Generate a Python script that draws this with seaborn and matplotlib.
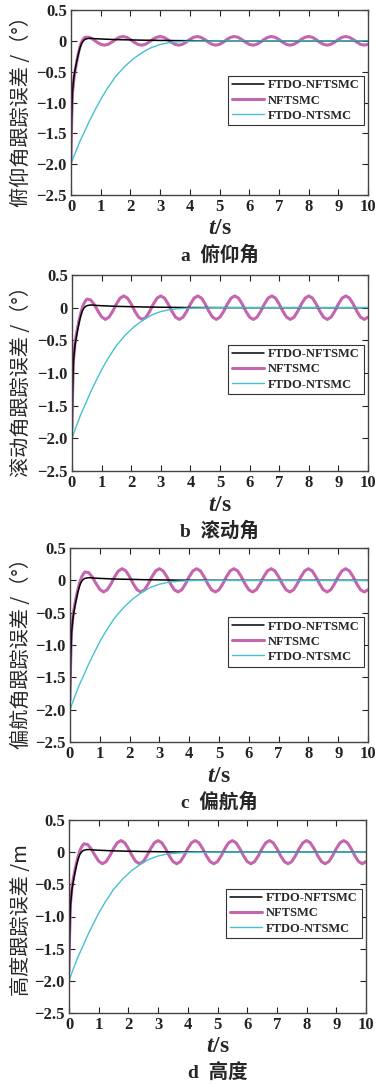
import matplotlib
matplotlib.use("Agg")
import matplotlib.pyplot as plt
import seaborn as sb


# time samples of the NFTSMC curves (fast rise, then the steady oscillation)
nftsmc_t = [0, 0.02, 0.05, 0.1, 0.15, 0.2, 0.25, 0.3, 0.35, 0.4, 0.45,
            0.5, 0.625, 0.75, 0.875, 1.0, 1.125, 1.25, 1.375, 1.5, 1.625,
            1.75, 1.875, 2.0, 2.125, 2.25, 2.375, 2.5, 2.625, 2.75, 2.875,
            3.0, 3.125, 3.25, 3.375, 3.5, 3.625, 3.75, 3.875, 4.0, 4.125,
            4.25, 4.375, 4.5, 4.625, 4.75, 4.875, 5.0, 5.125, 5.25, 5.375,
            5.5, 5.625, 5.75, 5.875, 6.0, 6.125, 6.25, 6.375, 6.5, 6.625,
            6.75, 6.875, 7.0, 7.125, 7.25, 7.375, 7.5, 7.625, 7.75, 7.875,
            8.0, 8.125, 8.25, 8.375, 8.5, 8.625, 8.75, 8.875, 9.0, 9.125,
            9.25, 9.375, 9.5, 9.625, 9.75, 9.875, 10.0]

nftsmc_pitch = [-1.93, -1.35, -0.85, -0.6, -0.45, -0.32, -0.2, -0.1, -0.03, 0.02, 0.05,
                0.06, 0.055, 0.022, -0.022, -0.057, -0.07, -0.057, -0.022, 0.022, 0.057,
                0.07, 0.057, 0.022, -0.022, -0.057, -0.07, -0.057, -0.022, 0.022, 0.057,
                0.07, 0.057, 0.022, -0.022, -0.057, -0.07, -0.057, -0.022, 0.022, 0.057,
                0.07, 0.057, 0.022, -0.022, -0.057, -0.07, -0.057, -0.022, 0.022, 0.057,
                0.07, 0.057, 0.022, -0.022, -0.057, -0.07, -0.057, -0.022, 0.022, 0.057,
                0.07, 0.057, 0.022, -0.022, -0.057, -0.07, -0.057, -0.022, 0.022, 0.057,
                0.07, 0.057, 0.022, -0.022, -0.057, -0.07, -0.057, -0.022, 0.022, 0.057,
                0.07, 0.057, 0.022, -0.022, -0.057, -0.07, -0.057]

# roll, yaw and height NFTSMC errors look the same in the figure
nftsmc_attitude = [-1.85, -1.3, -0.8, -0.55, -0.4, -0.28, -0.17, -0.08, 0.0, 0.06, 0.1,
                   0.13, 0.12, 0.05, -0.05, -0.14, -0.18, -0.146, -0.056, 0.056, 0.146,
                   0.18, 0.146, 0.056, -0.056, -0.146, -0.18, -0.146, -0.056, 0.056, 0.146,
                   0.18, 0.146, 0.056, -0.056, -0.146, -0.18, -0.146, -0.056, 0.056, 0.146,
                   0.18, 0.146, 0.056, -0.056, -0.146, -0.18, -0.146, -0.056, 0.056, 0.146,
                   0.18, 0.146, 0.056, -0.056, -0.146, -0.18, -0.146, -0.056, 0.056, 0.146,
                   0.18, 0.146, 0.056, -0.056, -0.146, -0.18, -0.146, -0.056, 0.056, 0.146,
                   0.18, 0.146, 0.056, -0.056, -0.146, -0.18, -0.146, -0.056, 0.056, 0.146,
                   0.18, 0.146, 0.056, -0.056, -0.146, -0.18, -0.146]

ftdo_nftsmc_t = [0, 0.02, 0.05, 0.1, 0.15, 0.2, 0.25, 0.3, 0.35, 0.4, 0.45, 0.5, 0.6,
                 0.7, 0.8, 1.0, 1.25, 1.5, 2.0, 2.5, 3.0, 3.5, 4.0, 5.0, 6.0, 7.0,
                 8.0, 9.0, 10.0]
ftdo_nftsmc = [-1.9, -1.3, -0.82, -0.58, -0.44, -0.32, -0.21, -0.12, -0.05, -0.01,
               0.015, 0.03, 0.04, 0.04, 0.035, 0.03, 0.025, 0.02, 0.015, 0.01, 0.007,
               0.004, 0.002, 0.001, 0, 0, 0, 0, 0]

ftdo_ntsmc_t = [0, 0.1, 0.2, 0.3, 0.45, 0.6, 0.8, 1.0, 1.2, 1.5, 1.8, 2.1, 2.4, 2.7,
                3.0, 3.3, 3.6, 4.0, 5.0, 6.0, 7.0, 8.0, 9.0, 10.0]
ftdo_ntsmc = [-2.0, -1.87, -1.75, -1.63, -1.48, -1.32, -1.13, -0.95, -0.79, -0.58,
              -0.42, -0.29, -0.19, -0.11, -0.06, -0.03, -0.015, -0.005, 0, 0, 0, 0,
              0, 0]

series_names = ['FTDO-NFTSMC', 'NFTSMC', 'FTDO-NTSMC']
ylabels = ['俯仰角跟踪误差 /（°）', '滚动角跟踪误差 /（°）',
           '偏航角跟踪误差 /（°）', '高度跟踪误差 /m']
captions = ['a  俯仰角', 'b  滚动角', 'c  偏航角', 'd  高度']
nftsmc_panels = [nftsmc_pitch, nftsmc_attitude, nftsmc_attitude, nftsmc_attitude]

xticks = [0, 1, 2, 3, 4, 5, 6, 7, 8, 9, 10]
yticks = [-2.5, -2.0, -1.5, -1.0, -0.5, 0, 0.5]
ytick_labels = ['−2.5', '−2.0', '−1.5', '−1.0', '−0.5', '0', '0.5']

W, H = 375, 1084
# axes boxes in pixels: left, top, right, bottom
boxes = [(71, 10, 368, 195), (72, 275, 368, 471),
         (70, 548, 368, 742), (69, 820, 366, 1013)]

colors = {'FTDO-NFTSMC': 'black', 'NFTSMC': '#c565ae', 'FTDO-NTSMC': '#45c1d2'}


def main():
    sb.set_style('ticks', {'xtick.direction': 'in', 'ytick.direction': 'in',
                           'axes.edgecolor': '#444444'})
    plt.rcParams['font.family'] = ['Liberation Serif', 'Noto Sans CJK SC']
    plt.rcParams['mathtext.fontset'] = 'custom'
    plt.rcParams['mathtext.rm'] = 'Liberation Serif:bold'
    plt.rcParams['mathtext.it'] = 'Liberation Serif:italic:bold'

    fig = plt.figure(figsize=(W / 100, H / 100), dpi=100)

    for i in range(4):
        make_panel(fig, boxes[i], nftsmc_panels[i], ylabels[i], captions[i])

    fig.savefig('out.png', dpi=100, facecolor='white')
    plt.close(fig)


def make_panel(fig, box, nftsmc, ylabel, caption):
    l, t, r, b = box
    ax = fig.add_axes([l / W, 1 - b / H, (r - l) / W, (b - t) / H])

    sb.lineplot(x=nftsmc_t, y=nftsmc, ax=ax, color=colors['NFTSMC'],
                linewidth=2.2, sort=False, estimator=None)
    sb.lineplot(x=ftdo_nftsmc_t, y=ftdo_nftsmc, ax=ax, color=colors['FTDO-NFTSMC'],
                linewidth=1.1, sort=False, estimator=None)
    sb.lineplot(x=ftdo_ntsmc_t, y=ftdo_ntsmc, ax=ax, color=colors['FTDO-NTSMC'],
                linewidth=1.0, sort=False, estimator=None)

    lines = ax.get_lines()
    leg = ax.legend([lines[1], lines[0], lines[2]], series_names,
                    loc='upper right', bbox_to_anchor=(0.985, 0.645),
                    prop={'family': 'Liberation Serif', 'weight': 'bold', 'size': 9},
                    fancybox=False, framealpha=1, edgecolor='#333333',
                    borderpad=0.3, labelspacing=0.25, handlelength=2.6,
                    handletextpad=0.3, borderaxespad=0)
    leg.get_frame().set_linewidth(0.8)

    ax.set_xlim(0, 10)
    ax.set_ylim(-2.5, 0.5)
    ax.set_xticks(xticks)
    ax.set_yticks(yticks)
    ax.set_yticklabels(ytick_labels)
    ax.set_xlabel('')
    ax.set_ylabel('')
    ax.tick_params(top=True, right=True, direction='in', length=4, width=0.8,
                   labelsize=12, pad=3, colors='#222222')
    for lab in ax.get_xticklabels() + ax.get_yticklabels():
        lab.set_fontweight('bold')
    for sp in ax.spines.values():
        sp.set_linewidth(1.0)

    cx = (l + r) / 2
    fig.text(cx / W, 1 - (b + 34) / H, r'$t$/s', ha='center', va='center',
             fontsize=17, fontweight='bold')
    fig.text(cx / W, 1 - (b + 60) / H, caption, ha='center', va='center',
             fontsize=14, fontweight='bold')
    fig.text(21.5 / W, 1 - ((t + b) / 2 + 4) / H, ylabel, rotation=90,
             ha='center', va='center', fontsize=14.5,
             family=['Noto Sans CJK SC', 'DejaVu Sans'])


if __name__ == '__main__':
    main()
